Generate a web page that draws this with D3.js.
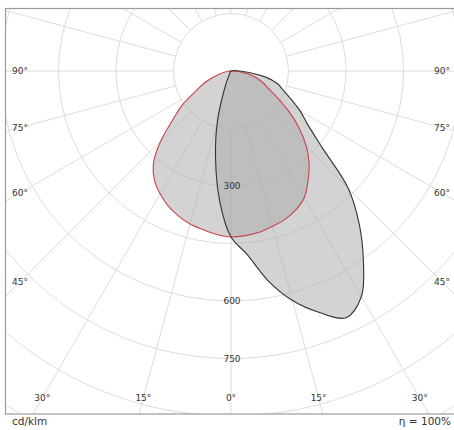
<!DOCTYPE html>
<html>
<head>
<meta charset="utf-8">
<script src="https://cdn.jsdelivr.net/npm/d3@7"></script>
<style>
body { margin: 0; background: #fff; }
text { font-family: "DejaVu Sans", Verdana, sans-serif; }
</style>
</head>
<body>
<div id="chart"></div>
<script>
// gamma angles (deg from nadir)
var gamma = [0, 5, 10, 15, 20, 25, 30, 35, 40, 45, 50, 55, 60, 65, 70, 75, 80, 85, 90]

// cd/klm, red curve (C0 right / C180 left)
var c0   = [433, 431, 427, 419, 412, 400, 382, 350, 317, 278, 232, 185, 140, 108, 88, 68, 45, 22, 0]
var c180 = [433, 428, 420, 413, 402, 388, 370, 348, 315, 260, 198, 156, 108, 80, 52, 32, 18, 8, 0]
// black curve (C90 right / C270 left)
var c90  = [433, 480, 555, 620, 670, 710, 680, 602, 520, 432, 310, 245, 208, 172, 145, 124, 92, 50, 0]
var c270 = [433, 340, 232, 138, 50, 12, 0, 0, 0, 0, 0, 0, 0, 0, 0, 0, 0, 0, 0]

var ringValues = [150, 300, 450, 600, 750, 900, 1050, 1200]
var ringLabels = [300, 600, 750]
var sideAngles = [90, 75, 60, 45]
var bottomAngles = [-30, -15, 0, 15, 30]

var svgWidth = 454
var svgHeight = 430
var cx = 231, cy = 71

var svg = d3.select("#chart").append("svg")
    .attr("width", svgWidth)
    .attr("height", svgHeight)

var r = d3.scaleLinear().domain([0, 750]).range([0, 287.5])

svg.append("clipPath").attr("id", "frame")
    .append("rect").attr("x", 5.5).attr("y", 8.5).attr("width", 470).attr("height", 405.5)

var grid = svg.append("g").attr("clip-path", "url(#frame)")

// radial lines every 15 deg, starting at the first ring
var spokes = d3.range(0, 360, 15)
grid.selectAll("line.spoke").data(spokes)
    .enter().append("line").attr("class", "spoke")
    .attr("x1", function(a) { return cx + r(150) * Math.sin(a * Math.PI / 180) })
    .attr("y1", function(a) { return cy + r(150) * Math.cos(a * Math.PI / 180) })
    .attr("x2", function(a) { return cx + 900 * Math.sin(a * Math.PI / 180) })
    .attr("y2", function(a) { return cy + 900 * Math.cos(a * Math.PI / 180) })
    .style("stroke", "#dcdcdc").style("stroke-width", 1)

grid.selectAll("circle.ring").data(ringValues)
    .enter().append("circle").attr("class", "ring")
    .attr("cx", cx).attr("cy", cy)
    .attr("r", function(d) { return r(d) })
    .style("fill", "none").style("stroke", "#dcdcdc").style("stroke-width", 1)

// frame
svg.append("rect")
    .attr("x", 5.5).attr("y", 8.5).attr("width", 470).attr("height", 405.5)
    .style("fill", "none").style("stroke", "#9a9a9a").style("stroke-width", 1.2)

function toPoints(right, left) {
    var pts = []
    for (var i = gamma.length - 1; i >= 0; i--) {
        var a = gamma[i] * Math.PI / 180
        pts.push([cx + r(right[i]) * Math.sin(a), cy + r(right[i]) * Math.cos(a)])
    }
    for (var j = 1; j < gamma.length; j++) {
        var b = gamma[j] * Math.PI / 180
        pts.push([cx - r(left[j]) * Math.sin(b), cy + r(left[j]) * Math.cos(b)])
    }
    // drop repeated centre points
    var out = []
    pts.forEach(function(p) {
        var q = out[out.length - 1]
        if (!q || Math.abs(q[0] - p[0]) > 0.01 || Math.abs(q[1] - p[1]) > 0.01) out.push(p)
    })
    var f = out[0], l = out[out.length - 1]
    if (Math.abs(f[0] - l[0]) < 0.01 && Math.abs(f[1] - l[1]) < 0.01) out.pop()
    return out
}

var line = d3.line().curve(d3.curveCatmullRomClosed.alpha(0.5))

var curves = [
    { pts: toPoints(c0, c180), stroke: "#c8434a" },
    { pts: toPoints(c90, c270), stroke: "#333333" }
]

svg.selectAll("path.fill").data(curves)
    .enter().append("path").attr("class", "fill")
    .attr("d", function(d) { return line(d.pts) })
    .style("fill", "#ababab").style("fill-opacity", 0.52).style("stroke", "none")

svg.selectAll("path.outline").data(curves)
    .enter().append("path").attr("class", "outline")
    .attr("d", function(d) { return line(d.pts) })
    .style("fill", "none").style("stroke", function(d) { return d.stroke })
    .style("stroke-width", 1.1)

// ring labels
svg.selectAll("text.ring").data(ringLabels)
    .enter().append("text").attr("class", "ring")
    .attr("x", cx + 1).attr("y", function(d) { return cy + r(d) })
    .attr("dy", "0.35em").attr("text-anchor", "middle")
    .style("font-size", "9px").style("fill", "#333")
    .text(function(d) { return d })

// angle labels on both sides
var sideDx = 211
;[-1, 1].forEach(function(s) {
    svg.selectAll("text.side" + s).data(sideAngles)
        .enter().append("text")
        .attr("x", cx + s * sideDx)
        .attr("y", function(a) { return cy + (a === 90 ? 0 : sideDx / Math.tan(a * Math.PI / 180)) })
        .attr("dy", "0.35em").attr("text-anchor", "middle")
        .style("font-size", "9px").style("fill", "#333")
        .text(function(a) { return a + "°" })
})

var bottomDy = 327
svg.selectAll("text.bottom").data(bottomAngles)
    .enter().append("text")
    .attr("x", function(a) { return cx + bottomDy * Math.tan(a * Math.PI / 180) })
    .attr("y", cy + bottomDy)
    .attr("dy", "0.35em").attr("text-anchor", "middle")
    .style("font-size", "9px").style("fill", "#333")
    .text(function(a) { return Math.abs(a) + "°" })

svg.append("text").attr("x", 12).attr("y", 425)
    .style("font-size", "10.5px").style("fill", "#333").text("cd/klm")

svg.append("text").attr("x", 451).attr("y", 425).attr("text-anchor", "end")
    .style("font-size", "10.5px").style("fill", "#333").text("η = 100%")
</script>
</body>
</html>
